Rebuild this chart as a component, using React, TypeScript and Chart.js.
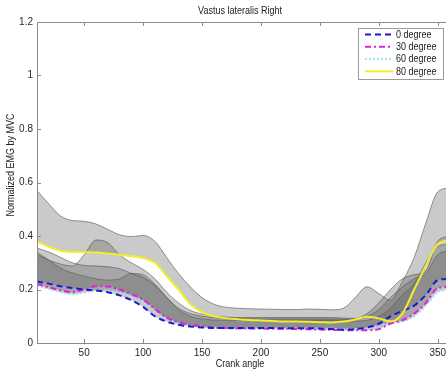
import React, { useEffect, useRef } from 'react';
import { Chart, registerables } from 'chart.js';
Chart.register(...registerables);

// ---- data ----
const angles = [10, 20, 30, 40, 50, 60, 70, 80, 90, 100, 110, 120, 130, 140, 150, 160, 170, 180, 190, 200, 210, 220, 230, 240, 250, 260, 270, 280, 290, 300, 310, 320, 330, 340, 350, 360];

const mean0 = [0.23, 0.222, 0.212, 0.206, 0.2, 0.196, 0.19, 0.178, 0.16, 0.135, 0.1, 0.08, 0.068, 0.062, 0.058, 0.056, 0.056, 0.056, 0.056, 0.056, 0.056, 0.055, 0.055, 0.055, 0.054, 0.052, 0.05, 0.052, 0.058, 0.072, 0.1, 0.12, 0.14, 0.18, 0.235, 0.24];
const upper0 = [0.355, 0.34, 0.32, 0.3, 0.29, 0.288, 0.285, 0.278, 0.26, 0.245, 0.215, 0.17, 0.13, 0.11, 0.1, 0.095, 0.093, 0.092, 0.09, 0.09, 0.09, 0.09, 0.09, 0.09, 0.09, 0.09, 0.088, 0.09, 0.11, 0.15, 0.2, 0.24, 0.255, 0.27, 0.38, 0.4];

const mean30 = [0.221, 0.208, 0.197, 0.19, 0.2, 0.212, 0.211, 0.2, 0.183, 0.162, 0.128, 0.095, 0.078, 0.068, 0.062, 0.058, 0.056, 0.055, 0.054, 0.054, 0.053, 0.053, 0.052, 0.051, 0.05, 0.049, 0.048, 0.048, 0.048, 0.052, 0.073, 0.085, 0.11, 0.15, 0.205, 0.21];
const upper30 = [0.33, 0.31, 0.295, 0.288, 0.33, 0.385, 0.375, 0.33, 0.3, 0.275, 0.24, 0.19, 0.15, 0.122, 0.108, 0.1, 0.097, 0.095, 0.095, 0.095, 0.095, 0.095, 0.095, 0.095, 0.095, 0.095, 0.093, 0.092, 0.1, 0.125, 0.17, 0.21, 0.24, 0.26, 0.33, 0.345];

const mean60 = [0.215, 0.202, 0.19, 0.182, 0.188, 0.195, 0.196, 0.19, 0.176, 0.155, 0.12, 0.09, 0.074, 0.065, 0.06, 0.057, 0.055, 0.054, 0.054, 0.054, 0.054, 0.054, 0.054, 0.054, 0.054, 0.053, 0.052, 0.052, 0.055, 0.062, 0.075, 0.08, 0.1, 0.14, 0.19, 0.2];
const upper60 = [0.34, 0.31, 0.28, 0.262, 0.25, 0.24, 0.235, 0.24, 0.26, 0.255, 0.22, 0.17, 0.125, 0.1, 0.09, 0.086, 0.085, 0.085, 0.085, 0.085, 0.085, 0.085, 0.085, 0.085, 0.085, 0.085, 0.083, 0.082, 0.085, 0.1, 0.13, 0.18, 0.22, 0.3, 0.36, 0.37];

const mean80 = [0.379, 0.36, 0.345, 0.34, 0.34, 0.338, 0.335, 0.33, 0.325, 0.318, 0.3, 0.25, 0.2, 0.145, 0.115, 0.1, 0.093, 0.089, 0.086, 0.084, 0.082, 0.08, 0.08, 0.079, 0.078, 0.077, 0.08, 0.088, 0.098, 0.092, 0.081, 0.11, 0.2, 0.29, 0.37, 0.385];
const upper80 = [0.57, 0.52, 0.475, 0.458, 0.455, 0.445, 0.425, 0.405, 0.398, 0.402, 0.38, 0.32, 0.26, 0.21, 0.17, 0.145, 0.134, 0.13, 0.128, 0.127, 0.126, 0.125, 0.125, 0.127, 0.126, 0.124, 0.13, 0.17, 0.21, 0.185, 0.16, 0.23, 0.32, 0.45, 0.565, 0.58];

const seriesNames = ['0 degree', '30 degree', '60 degree', '80 degree'];
const xTicks = [50, 100, 150, 200, 250, 300, 350];
const yTicks = [0, 0.2, 0.4, 0.6, 0.8, 1, 1.2];
const yTickLabels = ['0', '0.2', '0.4', '0.6', '0.8', '1', '1.2'];
const titleText = 'Vastus lateralis Right';
const xTitle = 'Crank angle';
const yTitle = 'Normalized EMG by MVC';

// ---- styles ----
const FONT = '"Liberation Sans", Arial, sans-serif';
const lineStyles = [
  { color: '#1a1ad0', dash: [6, 4] },
  { color: '#e020d8', dash: [6, 3, 2, 3] },
  { color: '#9fe6f2', dash: [2, 2] },
  { color: '#f2ee2a', dash: [] as number[] },
];
const bandFill = 'rgba(95,95,95,0.33)';
const bandEdge = 'rgba(70,70,70,0.55)';

const pts = (vals: number[]) => angles.map((a, i) => ({ x: a, y: vals[i] }));

function condensedText(ctx: any, text: string, x: number, y: number, align: string, rot = 0) {
  ctx.save();
  ctx.translate(x, y);
  if (rot) ctx.rotate(rot);
  ctx.scale(0.9, 1);
  ctx.textAlign = align;
  ctx.fillText(text, 0, 0);
  ctx.restore();
}

const decor = {
  id: 'decor',
  afterDraw(chart: any) {
    const { ctx, chartArea, scales } = chart;
    const { left, right, top, bottom } = chartArea;
    const xs = scales.x;
    const ys = scales.y;
    ctx.save();
    ctx.strokeStyle = '#8a8a8a';
    ctx.lineWidth = 1;
    ctx.setLineDash([]);
    ctx.beginPath();
    ctx.moveTo(left, Math.round(top) + 0.5);
    ctx.lineTo(right, Math.round(top) + 0.5);
    ctx.moveTo(Math.round(left) + 0.5, top);
    ctx.lineTo(Math.round(left) + 0.5, bottom);
    ctx.moveTo(left, Math.round(bottom) + 0.5);
    ctx.lineTo(right, Math.round(bottom) + 0.5);
    for (const v of xTicks) {
      const px = Math.round(xs.getPixelForValue(v)) + 0.5;
      ctx.moveTo(px, bottom);
      ctx.lineTo(px, bottom - 4);
      ctx.moveTo(px, top);
      ctx.lineTo(px, top + 4);
    }
    for (const v of yTicks) {
      const py = Math.round(ys.getPixelForValue(v)) + 0.5;
      ctx.moveTo(left, py);
      ctx.lineTo(left + 4, py);
    }
    ctx.stroke();

    // texts
    ctx.fillStyle = '#222';
    ctx.font = `10px ${FONT}`;
    ctx.textBaseline = 'middle';
    condensedText(ctx, titleText, 240, 11, 'center');
    condensedText(ctx, xTitle, 240, 364, 'center');
    condensedText(ctx, yTitle, 11.5, 165, 'center', -Math.PI / 2);

    // legend
    const bx = 358.5, by = 28.5, bw = 85, bh = 51;
    ctx.fillStyle = '#fff';
    ctx.fillRect(bx, by, bw, bh);
    ctx.strokeStyle = '#9a9a9a';
    ctx.strokeRect(bx, by, bw, bh);
    const rows = [34.5, 46.8, 59, 71.3];
    for (let i = 0; i < seriesNames.length; i++) {
      const st = lineStyles[i];
      ctx.strokeStyle = st.color;
      ctx.lineWidth = 2;
      ctx.setLineDash(st.dash);
      ctx.beginPath();
      ctx.moveTo(365, rows[i]);
      ctx.lineTo(393, rows[i]);
      ctx.stroke();
      ctx.setLineDash([]);
      ctx.fillStyle = '#222';
      condensedText(ctx, seriesNames[i], 396, rows[i] + 0.5, 'left');
    }
    ctx.restore();
  },
};

export default function App() {
  const ref = useRef<HTMLCanvasElement>(null);
  useEffect(() => {
    const canvas = ref.current;
    if (!canvas) return;
    const means = [mean0, mean30, mean60, mean80];
    const uppers = [upper0, upper30, upper60, upper80];
    const lineOrder = [1, 2, 3, 0];
    const datasets: any[] = [];
    means.forEach((m, i) => {
      datasets.push({
        label: seriesNames[i],
        data: pts(m),
        borderColor: lineStyles[i].color,
        borderDash: lineStyles[i].dash,
        borderWidth: 2,
        pointRadius: 0,
        fill: false,
        cubicInterpolationMode: 'monotone',
        order: lineOrder[i],
      });
    });
    uppers.forEach((u, i) => {
      datasets.push({
        label: seriesNames[i] + ' band',
        data: pts(u),
        borderColor: bandEdge,
        borderWidth: 1,
        pointRadius: 0,
        backgroundColor: bandFill,
        fill: { target: i },
        cubicInterpolationMode: 'monotone',
        order: 10 + i,
      });
    });
    const chart = new Chart(canvas, {
      type: 'line',
      data: { datasets },
      options: {
        animation: false,
        responsive: false,
        devicePixelRatio: 1,
        layout: { padding: { top: 22, right: 0, left: 0, bottom: 0 } },
        plugins: { legend: { display: false }, tooltip: { enabled: false }, title: { display: false } },
        scales: {
          x: {
            type: 'linear',
            min: 10,
            max: 357,
            grid: { display: false, drawTicks: false },
            border: { display: false },
            afterBuildTicks: (s: any) => { s.ticks = xTicks.map((v) => ({ value: v })); },
            afterFit: (s: any) => { s.height = 29; s.paddingLeft = 0; s.paddingRight = 0; },
            ticks: { color: '#262626', font: { family: FONT, size: 10 }, padding: 4, maxRotation: 0, callback: (v: any) => String(v) },
          },
          y: {
            type: 'linear',
            min: 0,
            max: 1.2,
            grid: { display: false, drawTicks: false },
            border: { display: false },
            afterBuildTicks: (s: any) => { s.ticks = yTicks.map((v) => ({ value: v })); },
            afterFit: (s: any) => { s.width = 37; s.paddingTop = 0; s.paddingBottom = 0; },
            ticks: {
              color: '#262626',
              font: { family: FONT, size: 10 },
              padding: 4,
              callback: (v: any) => { const i = yTicks.indexOf(v); return i >= 0 ? yTickLabels[i] : ''; },
            },
          },
        },
      },
      plugins: [decor],
    });
    return () => chart.destroy();
  }, []);
  return (
    <div style={{ position: 'absolute', left: 0, top: 0, width: 446, height: 372, background: '#fff' }}>
      <canvas ref={ref} width={446} height={372} style={{ display: 'block', width: 446, height: 372 }} />
    </div>
  );
}
